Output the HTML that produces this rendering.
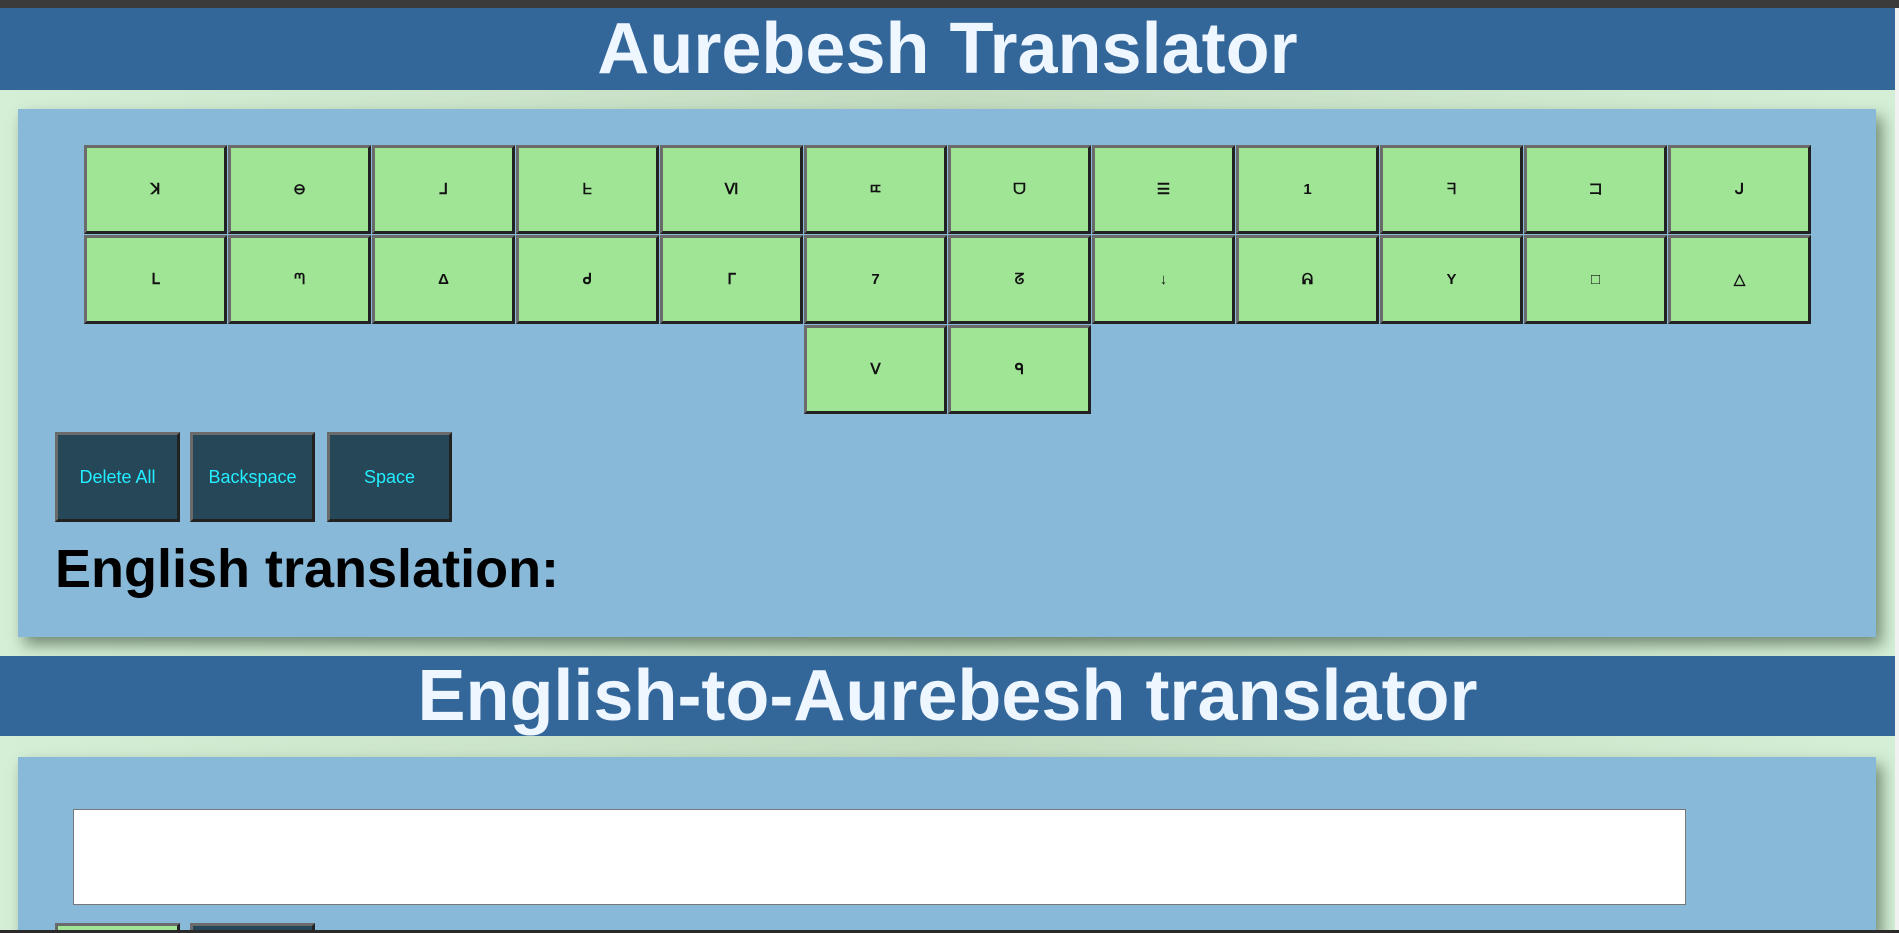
<!DOCTYPE html>
<html><head><meta charset="utf-8"><style>
*{margin:0;padding:0;box-sizing:border-box}
html,body{width:1899px;height:933px;overflow:hidden}
body{background:linear-gradient(90deg,#d4efd6,#c4dcc0 50%,#d4efd6);font-family:"Liberation Sans",sans-serif;position:relative}
.top{position:absolute;left:0;top:0;width:1899px;height:8px;background:#3b3b3b}
.hdr{position:absolute;left:0;width:1895px;background:#336699;color:#eef6ff;font-weight:bold;text-align:center;font-size:72px;line-height:82px}
.panel{position:absolute;left:18px;width:1858px;background:#88b9d9;box-shadow:6px 8px 14px rgba(40,60,40,.55)}
.key{position:absolute;width:143px;height:89px;background:#a0e496;border:3px solid;border-color:#6b6b6b #222 #222 #6b6b6b;text-align:center;line-height:83px;font-size:15px;font-weight:bold;color:#111}
.btn{position:absolute;width:125px;height:90px;background:#264758;border:3px solid;border-color:#6b6b6b #222 #222 #6b6b6b;color:#22eeff;font-size:18px;text-align:center;line-height:84px}
.sb{position:absolute;right:0;top:8px;width:4px;height:922px;background:#f2f2f2}
.bot{position:absolute;left:0;top:930px;width:1899px;height:3px;background:#2a2a2a}
</style></head><body>
<div class="top"></div>
<div class="hdr" style="top:8px;height:82px">Aurebesh Translator</div>
<div class="panel" style="top:109px;height:528px"></div>
<div class="hdr" style="top:656px;height:80px;line-height:80px">English-to-Aurebesh translator</div>
<div class="panel" style="top:757px;height:176px"></div>

<div class="key" style="left:84px;top:145px">ꓘ</div>
<div class="key" style="left:228px;top:145px">⊖</div>
<div class="key" style="left:372px;top:145px">ᒧ</div>
<div class="key" style="left:516px;top:145px">ᖶ</div>
<div class="key" style="left:660px;top:145px">Ⅵ</div>
<div class="key" style="left:804px;top:145px">ㄸ</div>
<div class="key" style="left:948px;top:145px">ᗜ</div>
<div class="key" style="left:1092px;top:145px">☰</div>
<div class="key" style="left:1236px;top:145px">1</div>
<div class="key" style="left:1380px;top:145px">ᖷ</div>
<div class="key" style="left:1524px;top:145px">コ</div>
<div class="key" style="left:1668px;top:145px">ᒍ</div>

<div class="key" style="left:84px;top:235px">ᒪ</div>
<div class="key" style="left:228px;top:235px">ᘉ</div>
<div class="key" style="left:372px;top:235px">Δ</div>
<div class="key" style="left:516px;top:235px">ᑯ</div>
<div class="key" style="left:660px;top:235px">ᒥ</div>
<div class="key" style="left:804px;top:235px">7</div>
<div class="key" style="left:948px;top:235px">ᘔ</div>
<div class="key" style="left:1092px;top:235px">↓</div>
<div class="key" style="left:1236px;top:235px">ᕱ</div>
<div class="key" style="left:1380px;top:235px">Y</div>
<div class="key" style="left:1524px;top:235px">□</div>
<div class="key" style="left:1668px;top:235px">△</div>

<div class="key" style="left:804px;top:325px">ᐯ</div>
<div class="key" style="left:948px;top:325px">ᑫ</div>

<div class="btn" style="left:55px;top:432px">Delete All</div>
<div class="btn" style="left:190px;top:432px">Backspace</div>
<div class="btn" style="left:327px;top:432px">Space</div>

<div style="position:absolute;left:55px;top:537px;font-size:54px;font-weight:bold;color:#000;line-height:64px">English translation:</div>

<div style="position:absolute;left:73px;top:809px;width:1613px;height:96px;background:#fff;border:1px solid #777"></div>
<div class="btn" style="left:55px;top:923px;height:10px;background:#a0e496;border-bottom:0"></div>
<div class="btn" style="left:190px;top:923px;height:10px;border-bottom:0"></div>

<div class="sb"></div>
<div class="bot"></div>
</body></html>
